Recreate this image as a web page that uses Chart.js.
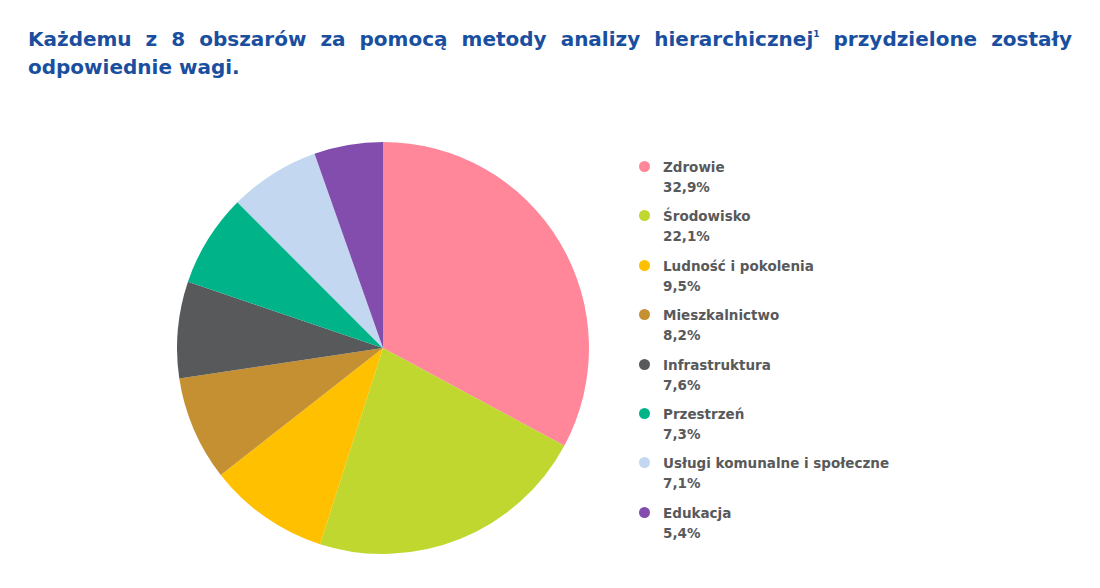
<!DOCTYPE html>
<html lang="pl">
<head>
<meta charset="utf-8">
<title>Wagi obszarów</title>
<script src="https://cdn.jsdelivr.net/npm/chart.js@4.4.0/dist/chart.umd.min.js"></script>
<style>
    html, body {
        margin: 0;
        padding: 0;
        background: #ffffff;
    }
    body {
        width: 1100px;
        height: 588px;
        position: relative;
        overflow: hidden;
        font-family: 'DejaVu Sans', sans-serif;
    }
    .title {
        position: absolute;
        left: 28px;
        top: 25px;
        width: 1044px;
        margin: 0;
        font-size: 20px;
        line-height: 28px;
        font-weight: bold;
        color: #1a4f9f;
        text-align: justify;
    }
    .title sup {
        font-size: 9px;
        line-height: 0;
        vertical-align: 9px;
    }
    .chart-box {
        position: absolute;
        left: 177px;
        top: 142px;
        width: 412px;
        height: 412px;
    }
    .legend-item {
        position: absolute;
        left: 639px;
        font-size: 13.5px;
        line-height: 20px;
        font-weight: bold;
        color: #58595b;
    }
    .legend-item .dot {
        position: absolute;
        left: 0;
        top: 4px;
        width: 11px;
        height: 11px;
        border-radius: 50%;
    }
    .legend-item .text {
        margin-left: 24px;
        white-space: nowrap;
    }
</style>
</head>
<body>
<p class="title">Każdemu z 8 obszarów za pomocą metody analizy hierarchicznej<sup>1</sup> przydzielone zostały odpowiednie wagi.</p>
<div class="chart-box"><canvas id="pieChart" width="412" height="412"></canvas></div>
<div id="legend"></div>

<script>
// Obszary i ich wagi (%)
const areas = ['Zdrowie', 'Środowisko', 'Ludność i pokolenia', 'Mieszkalnictwo',
    'Infrastruktura', 'Przestrzeń', 'Usługi komunalne i społeczne', 'Edukacja'];
const weights = [32.9, 22.1, 9.5, 8.2, 7.6, 7.3, 7.1, 5.4];
const colors = ['#ff8799', '#c0d72f', '#ffc000', '#c49032',
    '#58595b', '#00b388', '#c3d8f0', '#834dae'];

document.addEventListener('DOMContentLoaded', () => {
    // Build the legend next to the pie
    const legend = document.getElementById('legend');
    areas.forEach((name, i) => {
        const item = document.createElement('div');
        item.className = 'legend-item';
        item.style.top = (157 + i * 49.4) + 'px';
        const pct = weights[i].toFixed(1).replace('.', ',') + '%';
        item.innerHTML = '<span class="dot" style="background:' + colors[i] + '"></span>' +
            '<div class="text">' + name + '<br>' + pct + '</div>';
        legend.appendChild(item);
    });

    const ctx = document.getElementById('pieChart').getContext('2d');
    new Chart(ctx, {
        type: 'pie',
        data: {
            labels: areas,
            datasets: [{
                data: weights,
                backgroundColor: colors,
                borderWidth: 0
            }]
        },
        options: {
            responsive: false,
            animation: false,
            layout: { padding: 0 },
            plugins: {
                legend: { display: false },
                tooltip: { enabled: false }
            }
        }
    });
});
</script>
</body>
</html>
